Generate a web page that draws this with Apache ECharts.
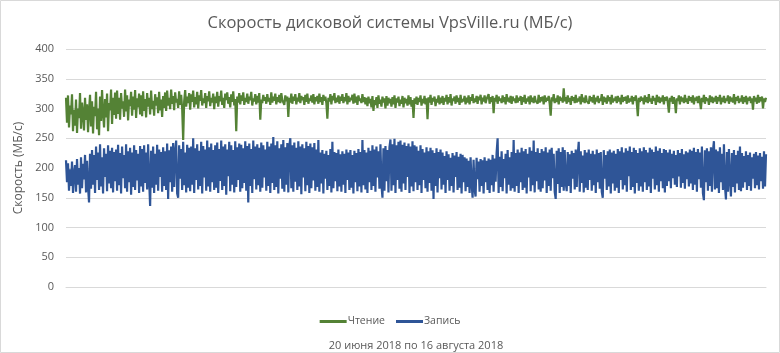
<!DOCTYPE html>
<html>
<head>
<meta charset="utf-8">
<script src="https://cdn.jsdelivr.net/npm/echarts@6/dist/echarts.min.js"></script>
<style>
  html, body { margin: 0; padding: 0; background: #fff; }
  #main { width: 780px; height: 353px; }
</style>
</head>
<body>
<div id="main"></div>
<script>
// Чтение (read speed), МБ/с left to right, 25 values per row
const readSpeed = [
  318, 276, 322, 268, 305, 290, 324, 262, 298, 271, 315, 259, 300, 284, 326, 266, 310, 292, 263, 318, 281, 307, 260, 296, 323,
  270, 312, 258, 303, 287, 328, 265, 300, 255, 320, 279, 331, 292, 268, 316, 285, 325, 262, 309, 297, 332, 274, 318, 289, 327,
  283, 330, 291, 318, 281, 326, 300, 312, 286, 332, 295, 322, 280, 315, 304, 328, 288, 320, 298, 331, 284, 317, 302, 325, 290,
  322, 287, 329, 296, 316, 285, 326, 303, 318, 290, 330, 299, 313, 288, 324, 305, 319, 292, 328, 297, 315, 286, 321, 301, 327,
  296, 330, 305, 318, 299, 332, 308, 321, 297, 327, 310, 316, 301, 329, 306, 323, 300, 247, 312, 331, 303, 320, 309, 326, 298,
  324, 311, 330, 302, 319, 307, 328, 300, 322, 313, 331, 305, 317, 309, 326, 301, 321, 312, 329, 304, 318, 310, 325, 299, 320,
  309, 328, 303, 321, 312, 330, 306, 318, 301, 325, 314, 327, 308, 319, 302, 324, 311, 329, 305, 316, 262, 320, 310, 326, 307,
  322, 313, 327, 306, 318, 311, 325, 308, 320, 314, 328, 305, 317, 312, 324, 307, 321, 310, 326, 281, 315, 309, 323, 313, 319,
  308, 324, 312, 318, 306, 327, 310, 320, 313, 325, 307, 319, 311, 323, 309, 326, 314, 317, 306, 322, 312, 320, 286, 318, 310,
  325, 308, 320, 313, 324, 307, 318, 312, 326, 309, 321, 314, 319, 306, 323, 311, 325, 308, 317, 313, 322, 310, 324, 307, 319,
  312, 321, 308, 325, 311, 319, 306, 323, 313, 320, 309, 283, 318, 312, 324, 307, 321, 314, 326, 309, 318, 311, 322, 308, 320,
  313, 324, 309, 319, 312, 326, 307, 321, 311, 318, 314, 323, 308, 325, 310, 320, 306, 322, 313, 317, 309, 324, 311, 319, 307,
  318, 304, 320, 309, 316, 302, 321, 296, 314, 306, 319, 301, 322, 308, 315, 303, 320, 310, 317, 300, 321, 305, 318, 309, 316,
  303, 319, 307, 322, 301, 317, 310, 320, 304, 315, 308, 321, 302, 318, 309, 316, 305, 322, 307, 319, 303, 314, 284, 317, 308,
  320, 306, 318, 311, 322, 305, 316, 309, 321, 307, 317, 282, 319, 310, 323, 306, 318, 312, 320, 304, 316, 310, 322, 307, 318,
  309, 321, 306, 318, 312, 323, 307, 319, 310, 324, 305, 317, 313, 320, 308, 322, 311, 318, 306, 323, 310, 316, 312, 321, 307,
  318, 310, 322, 307, 319, 313, 324, 309, 317, 311, 321, 308, 320, 314, 323, 307, 318, 312, 322, 309, 316, 313, 324, 308, 319,
  311, 321, 292, 318, 312, 323, 308, 320, 313, 317, 309, 322, 311, 319, 307, 324, 312, 318, 310, 321, 308, 320, 313, 317, 309,
  322, 310, 318, 313, 321, 306, 319, 311, 323, 308, 317, 312, 320, 307, 322, 311, 318, 309, 321, 313, 316, 308, 323, 310, 319,
  312, 320, 307, 322, 311, 318, 313, 321, 308, 288, 319, 312, 324, 309, 317, 311, 322, 307, 320, 313, 318, 310, 334, 312, 319,
  308, 322, 311, 318, 306, 321, 313, 319, 309, 323, 310, 317, 312, 320, 307, 324, 311, 318, 309, 322, 313, 316, 308, 321, 312,
  319, 310, 323, 307, 318, 312, 321, 309, 317, 313, 324, 306, 320, 311, 318, 308, 322, 312, 319, 307, 323, 310, 317, 313, 320,
  309, 321, 312, 318, 307, 323, 311, 319, 313, 320, 308, 322, 310, 317, 312, 321, 307, 319, 313, 322, 309, 287, 318, 311, 320,
  313, 318, 307, 322, 311, 319, 309, 324, 312, 317, 308, 321, 313, 318, 306, 323, 311, 320, 309, 318, 312, 322, 307, 319, 313,
  320, 309, 293, 318, 312, 321, 308, 319, 311, 292, 317, 313, 322, 307, 320, 312, 318, 309, 323, 311, 317, 308, 321, 313, 319,
  310, 322, 307, 318, 313, 320, 309, 321, 312, 299, 318, 311, 323, 308, 319, 313, 317, 306, 322, 311, 320, 309, 318, 312, 321,
  308, 319, 312, 323, 307, 318, 311, 321, 309, 317, 313, 322, 308, 320, 312, 318, 310, 324, 307, 319, 313, 321, 309, 317, 312,
  322, 308, 319, 311, 321, 307, 318, 313, 320, 309, 317, 298, 321, 312, 318, 308, 323, 310, 319, 312, 320, 300, 317, 311, 318
];

// Запись (write speed), МБ/с
const writeSpeed = [
  213, 176, 208, 162, 198, 170, 211, 158, 190, 205, 160, 215, 172, 200, 157, 218, 166, 207, 181, 222, 159, 212, 168, 142, 224,
  165, 230, 172, 222, 158, 236, 180, 226, 163, 240, 169, 218, 157, 233, 185, 224, 161, 238, 174, 229, 166, 234, 159, 227, 178,
  231, 162, 239, 171, 225, 157, 236, 183, 222, 166, 240, 160, 228, 176, 234, 155, 226, 168, 238, 163, 230, 179, 224, 158, 237,
  169, 232, 160, 238, 175, 226, 164, 240, 181, 136, 229, 167, 236, 158, 224, 172, 239, 162, 231, 185, 227, 160, 235, 170, 228,
  163, 241, 148, 230, 176, 236, 160, 242, 168, 228, 246, 157, 150, 238, 182, 232, 163, 244, 171, 226, 159, 239, 167, 234, 161,
  236, 172, 250, 158, 233, 180, 240, 164, 229, 170, 244, 157, 237, 184, 231, 162, 246, 169, 235, 160, 241, 176, 230, 163, 238,
  167, 243, 158, 232, 178, 246, 163, 236, 170, 240, 155, 231, 186, 244, 161, 238, 172, 230, 159, 245, 168, 235, 180, 241, 160,
  239, 166, 233, 175, 245, 162, 237, 142, 241, 170, 232, 158, 246, 181, 236, 164, 240, 171, 234, 160, 243, 167, 238, 184, 231,
  162, 244, 170, 236, 158, 241, 175, 252, 163, 238, 168, 245, 157, 233, 182, 240, 165, 247, 160, 235, 172, 242, 159, 237, 250,
  166, 238, 160, 243, 177, 234, 163, 245, 169, 236, 156, 240, 184, 233, 161, 244, 171, 237, 158, 241, 166, 235, 179, 242, 162,
  231, 168, 247, 160, 226, 174, 230, 157, 224, 182, 229, 163, 222, 170, 232, 159, 244, 166, 227, 178, 225, 161, 231, 169, 223,
  160, 228, 172, 224, 158, 231, 180, 226, 163, 230, 167, 222, 157, 229, 176, 225, 161, 232, 169, 227, 159, 247, 171, 230, 164,
  226, 158, 234, 176, 229, 163, 238, 170, 231, 160, 236, 184, 228, 165, 240, 172, 150, 233, 162, 237, 178, 230, 159, 235, 248,
  162, 240, 171, 249, 158, 238, 180, 244, 165, 246, 160, 239, 174, 243, 163, 237, 185, 241, 158, 236, 169, 245, 161, 238, 176,
  236, 163, 229, 171, 238, 158, 232, 180, 226, 166, 235, 160, 228, 175, 234, 162, 230, 148, 225, 170, 233, 159, 227, 183, 231,
  164, 226, 172, 220, 158, 228, 180, 223, 162, 217, 170, 225, 159, 221, 185, 227, 163, 219, 167, 224, 157, 222, 176, 218, 161,
  216, 168, 212, 158, 218, 175, 150, 214, 164, 152, 217, 181, 211, 160, 215, 170, 213, 157, 218, 176, 212, 163, 216, 158, 214,
  171, 222, 160, 216, 177, 226, 250, 158, 219, 168, 228, 161, 215, 183, 224, 157, 230, 172, 218, 162, 227, 166, 247, 160, 225,
  170, 231, 158, 226, 176, 234, 163, 228, 167, 232, 157, 224, 184, 235, 161, 229, 171, 246, 159, 227, 178, 233, 164, 225, 160,
  232, 166, 228, 179, 235, 158, 226, 170, 231, 162, 234, 183, 224, 160, 148, 229, 173, 233, 158, 227, 168, 235, 162, 230, 176,
  161, 227, 170, 223, 158, 229, 182, 225, 164, 231, 168, 222, 244, 160, 228, 175, 221, 159, 230, 167, 226, 163, 231, 180, 224,
  162, 229, 171, 223, 158, 231, 176, 225, 165, 227, 160, 150, 230, 182, 222, 163, 228, 169, 231, 157, 226, 174, 229, 162, 224,
  167, 232, 158, 228, 180, 235, 164, 226, 171, 233, 160, 229, 186, 236, 163, 227, 168, 234, 157, 230, 175, 225, 162, 233, 169,
  228, 160, 235, 176, 230, 163, 226, 169, 234, 158, 231, 182, 227, 164, 236, 171, 229, 160, 233, 178, 225, 166, 232, 159, 230,
  170, 226, 178, 231, 166, 224, 183, 229, 172, 222, 168, 230, 186, 225, 167, 232, 175, 223, 165, 228, 181, 226, 169, 231, 174,
  229, 163, 234, 172, 227, 160, 232, 181, 226, 167, 236, 158, 146, 230, 176, 233, 162, 228, 170, 235, 160, 229, 245, 164, 231,
  166, 228, 158, 235, 176, 224, 163, 240, 170, 147, 227, 160, 232, 181, 152, 225, 168, 230, 159, 222, 174, 229, 163, 236, 161,
  225, 167, 220, 176, 228, 163, 222, 170, 226, 162, 218, 182, 224, 166, 227, 171, 221, 164, 225, 178, 219, 165, 228, 169, 223
];

const yTicks = [0, 50, 100, 150, 200, 250, 300, 350, 400];
const categories = readSpeed.map((v, i) => i + 1);

const chart = echarts.init(document.getElementById('main'));
const textColor = '#595959';
const font = 'Open Sans';

chart.setOption({
  animation: false,
  title: {
    text: 'Скорость дисковой системы VpsVille.ru (МБ/с)',
    left: 'center',
    top: 10,
    textStyle: { fontFamily: font, fontSize: 16.5, fontWeight: 'normal', color: textColor }
  },
  graphic: [{
    type: 'rect',
    shape: { x: 0.5, y: 0.5, width: 779, height: 352 },
    style: { fill: 'none', stroke: '#d9d9d9', lineWidth: 1 },
    silent: true
  }],
  legend: {
    top: 311,
    left: 'center',
    icon: 'rect',
    itemWidth: 27,
    itemHeight: 3,
    itemGap: 11,
    textStyle: { fontFamily: font, fontSize: 10.5, color: textColor, padding: [0, 0, 0, -4] },
    data: ['Чтение', 'Запись']
  },
  grid: { left: 66, right: 14, top: 49, bottom: 66, outerBoundsMode: 'none' },
  xAxis: {
    type: 'category',
    data: categories,
    boundaryGap: false,
    name: '20 июня 2018 по 16 августа 2018',
    nameLocation: 'middle',
    nameGap: 53,
    nameTextStyle: { fontFamily: font, fontSize: 11, color: textColor },
    axisLine: { show: true, lineStyle: { color: '#d9d9d9' } },
    axisTick: { show: false },
    axisLabel: { show: false }
  },
  yAxis: {
    type: 'value',
    min: yTicks[0],
    max: yTicks[yTicks.length - 1],
    interval: 50,
    name: 'Скорость (МБ/с)',
    nameLocation: 'middle',
    nameGap: 26,
    nameTextStyle: { fontFamily: font, fontSize: 12, color: textColor },
    axisLine: { show: false },
    axisTick: { show: false },
    axisLabel: { fontFamily: font, fontSize: 11, color: textColor, margin: 12 },
    splitLine: { lineStyle: { color: '#d9d9d9' } }
  },
  series: [
    {
      name: 'Чтение',
      type: 'line',
      data: readSpeed,
      symbol: 'none',
      itemStyle: { color: '#548235' },
      lineStyle: { color: '#548235', width: 2.2 }
    },
    {
      name: 'Запись',
      type: 'line',
      data: writeSpeed,
      symbol: 'none',
      itemStyle: { color: '#2f5597' },
      lineStyle: { color: '#2f5597', width: 2.2 }
    }
  ]
});
</script>
</body>
</html>
